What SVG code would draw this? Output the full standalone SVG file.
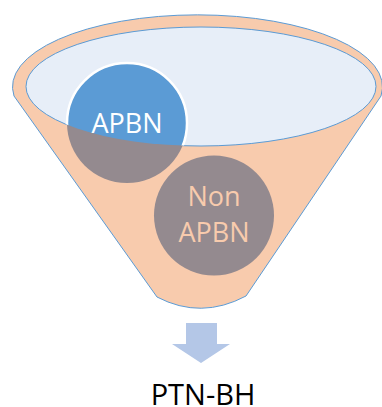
<svg xmlns="http://www.w3.org/2000/svg" width="382" height="407" viewBox="0 0 382 407">
  <style>
    .label { font-family: "Open Sans", "Liberation Sans", sans-serif; text-anchor: middle; }
  </style>
  <defs>
    <clipPath id="mouth">
      <ellipse cx="201" cy="86.5" rx="175" ry="59.5"/>
    </clipPath>
  </defs>
  <rect width="382" height="407" fill="#ffffff"/>

  <!-- Funnel body -->
  <g id="funnel">
    <path d="M 14,96 A 185 72 0 1 1 381,96 L 246,296 Q 201,320 157,297 Z"
          fill="#F8CBAD" stroke="#5B9BD5" stroke-width="1"/>
    <ellipse cx="201" cy="86.5" rx="175" ry="59.5" fill="#E7EEF8" stroke="#5B9BD5" stroke-width="1"/>
  </g>

  <!-- APBN circle: blue inside the mouth, grey below its rim -->
  <g id="apbn">
    <circle cx="127" cy="123" r="60" fill="#948A8F"/>
    <g clip-path="url(#mouth)">
      <circle cx="127" cy="123" r="60" fill="#5B9BD5" stroke="#ffffff" stroke-width="2.5"/>
    </g>
    <text class="label" x="127" y="133" font-size="27" fill="#ffffff">APBN</text>
  </g>

  <!-- Non APBN circle -->
  <g id="non-apbn">
    <circle cx="214" cy="215.5" r="60" fill="#948A8F"/>
    <text class="label" x="214" y="206" font-size="27" fill="#F8CBAD">Non</text>
    <text class="label" x="214" y="242" font-size="27" fill="#F8CBAD">APBN</text>
  </g>

  <!-- Output arrow -->
  <g id="connectors">
    <path d="M 186,323 L 217,323 L 217,344 L 230,344 L 201,363 L 172,344 L 186,344 Z" fill="#B4C7E7"/>
  </g>

  <g id="ptn-bh">
    <text class="label" x="203" y="405" font-size="29" fill="#000000">PTN-BH</text>
  </g>
</svg>
